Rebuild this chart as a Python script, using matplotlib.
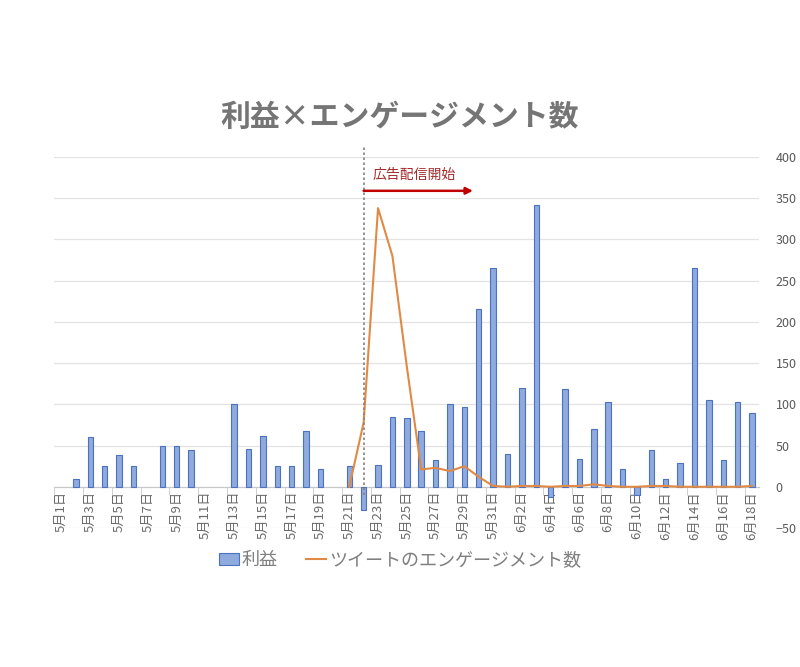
import numpy as np
import matplotlib.pyplot as plt

plt.rcParams['font.family'] = ['Noto Sans CJK JP', 'DejaVu Sans']

# 5/1 - 6/18
dates = ['5月%d日' % d for d in range(1, 32)] + ['6月%d日' % d for d in range(1, 19)]

nan = np.nan
profit = [nan, 10, 60, 25, 38, 25, nan, 50, 50, 45,
          nan, nan, 100, 46, 62, 25, 25, 68, 21, nan,
          25, -28, 26, 85, 83, 68, 33, 101, 97, 216,
          265, 40, 120, 342, -13, 118, 34, 70, 103, 22,
          -10, 45, 10, 29, 265, 105, 33, 103, 90]

engagement = [nan] * 20 + [0, 78, 338, 280, 146, 21, 23, 19, 25, 12,
                           1, 0, 1, 1, 0, 1, 1, 3, 1, 0,
                           0, 1, 1, 0, 0, 0, 0, 0, 1]

ad_start = 21  # 5月22日

x = np.arange(len(dates))

fig = plt.figure(figsize=(8, 6.67), dpi=100)
ax = fig.add_axes([0.068, 0.2084, 0.881, 0.5562])

bars = ax.bar(x, profit, width=0.38, color='#8faadc', edgecolor='#4a72c0', linewidth=0.8,
              label='利益', zorder=3)
line, = ax.plot(x, engagement, color='#e08a45', linewidth=1.5,
                label='ツイートのエンゲージメント数', zorder=4)

ax.set_xlim(-0.5, len(dates) - 0.5)
ax.set_ylim(-50, 400)
ax.set_yticks(np.arange(-50, 401, 50))
ax.yaxis.tick_right()
ax.tick_params(axis='y', length=0, labelsize=9, labelcolor='#595959', pad=12)
ax.grid(axis='y', color='#e3e3e3', linewidth=0.9, zorder=0)

for s in ['top', 'left', 'right']:
    ax.spines[s].set_visible(False)
ax.spines['bottom'].set_position(('data', 0))
ax.spines['bottom'].set_color('#c8c8c8')
ax.spines['bottom'].set_zorder(2)

ax.set_xticks(x[::2])
ax.set_xticklabels(dates[::2], rotation=90, fontsize=9.5, color='#6a6a6a')
ax.tick_params(axis='x', which='major', length=0, pad=3)
ax.set_xticks(np.arange(-0.5, len(dates), 2), minor=True)
ax.tick_params(axis='x', which='minor', length=6, color='#c8c8c8')

# ad start marker
ax.plot([ad_start, ad_start], [-10, 412], linestyle=(0, (1.5, 1.5)), color='#8a7f7f',
        linewidth=1.2, clip_on=False, zorder=5)
ax.annotate('', xy=(ad_start + 7.6, 359), xytext=(ad_start, 359),
            arrowprops=dict(arrowstyle='-|>', color='#c00000', lw=1.8,
                            mutation_scale=10, shrinkA=0, shrinkB=0), zorder=5)
ax.text(ad_start + 0.6, 370, '広告配信開始', fontsize=10, color='#a52a2a',
        ha='left', va='bottom')

fig.text(0.5, 0.825, '利益×エンゲージメント数', ha='center', va='center',
         fontsize=21.5, fontweight='bold', color='#757575')

fig.legend(handles=[bars, line], loc='center', bbox_to_anchor=(0.5, 0.16), ncol=2,
           frameon=False, fontsize=13, labelcolor='#7f7f7f', handlelength=1.1,
           handleheight=0.6, columnspacing=1.6, handletextpad=0.15)

fig.savefig('out.png', dpi=100)
